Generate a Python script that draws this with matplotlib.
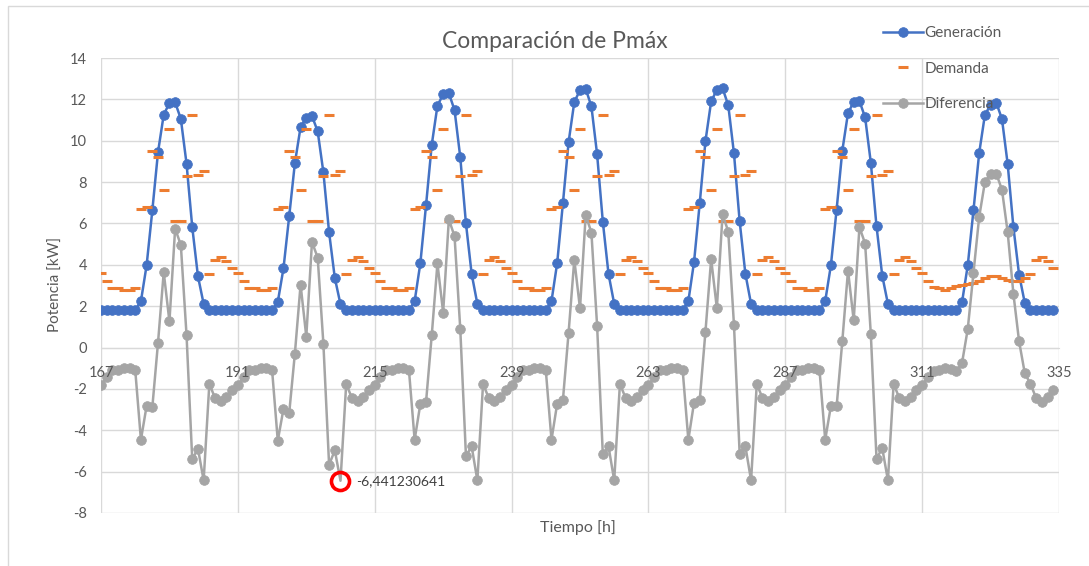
import matplotlib
matplotlib.use('Agg')  # sin pantalla
import matplotlib.pyplot as plt
from matplotlib.patches import Rectangle
import numpy as np

plt.rcParams['font.family'] = ['Lato', 'DejaVu Sans']
plt.rcParams['axes.unicode_minus'] = False

# horas de la semana (167 ... 334)
horas = np.arange(167, 335)

# Generación [kW], una fila por día
generacion = [
    1.80, 1.80, 1.80, 1.80, 1.80, 1.80, 1.80, 2.24, 3.98, 6.63, 9.45, 11.26, 11.82, 11.85, 11.06, 8.89, 5.83, 3.45, 2.11, 1.80, 1.80, 1.80, 1.80, 1.80,
    1.80, 1.80, 1.80, 1.80, 1.80, 1.80, 1.80, 2.20, 3.83, 6.34, 8.92, 10.66, 11.09, 11.20, 10.45, 8.47, 5.57, 3.37, 2.09, 1.80, 1.80, 1.80, 1.80, 1.80,
    1.80, 1.80, 1.80, 1.80, 1.80, 1.80, 1.80, 2.24, 4.07, 6.88, 9.80, 11.69, 12.25, 12.30, 11.48, 9.21, 6.00, 3.56, 2.11, 1.80, 1.80, 1.80, 1.80, 1.80,
    1.80, 1.80, 1.80, 1.80, 1.80, 1.80, 1.80, 2.24, 4.09, 6.97, 9.93, 11.87, 12.45, 12.51, 11.66, 9.34, 6.09, 3.56, 2.11, 1.80, 1.80, 1.80, 1.80, 1.80,
    1.80, 1.80, 1.80, 1.80, 1.80, 1.80, 1.80, 2.24, 4.14, 6.99, 9.98, 11.90, 12.46, 12.54, 11.71, 9.39, 6.10, 3.57, 2.11, 1.80, 1.80, 1.80, 1.80, 1.80,
    1.80, 1.80, 1.80, 1.80, 1.80, 1.80, 1.80, 2.24, 3.98, 6.67, 9.52, 11.34, 11.87, 11.92, 11.13, 8.94, 5.86, 3.48, 2.11, 1.80, 1.80, 1.80, 1.80, 1.80,
    1.80, 1.80, 1.80, 1.80, 1.80, 1.80, 1.80, 2.20, 3.98, 6.63, 9.40, 11.24, 11.74, 11.84, 11.05, 8.87, 5.83, 3.53, 2.16, 1.80, 1.80, 1.80, 1.80, 1.80,
]

# Demanda [kW]
demanda = [
    3.61, 3.24, 2.88, 2.88, 2.80, 2.80, 2.88, 6.70, 6.80, 9.52, 9.21, 7.62, 10.56, 6.10, 6.10, 8.29, 11.24, 8.34, 8.53, 3.56, 4.24, 4.38, 4.19, 3.85,
    3.61, 3.24, 2.88, 2.88, 2.80, 2.80, 2.88, 6.70, 6.80, 9.52, 9.21, 7.62, 10.56, 6.10, 6.10, 8.29, 11.24, 8.34, 8.53, 3.56, 4.24, 4.38, 4.19, 3.85,
    3.61, 3.24, 2.88, 2.88, 2.80, 2.80, 2.88, 6.70, 6.80, 9.52, 9.21, 7.62, 10.56, 6.10, 6.10, 8.29, 11.24, 8.34, 8.53, 3.56, 4.24, 4.38, 4.19, 3.85,
    3.61, 3.24, 2.88, 2.88, 2.80, 2.80, 2.88, 6.70, 6.80, 9.52, 9.21, 7.62, 10.56, 6.10, 6.10, 8.29, 11.24, 8.34, 8.53, 3.56, 4.24, 4.38, 4.19, 3.85,
    3.61, 3.24, 2.88, 2.88, 2.80, 2.80, 2.88, 6.70, 6.80, 9.52, 9.21, 7.62, 10.56, 6.10, 6.10, 8.29, 11.24, 8.34, 8.53, 3.56, 4.24, 4.38, 4.19, 3.85,
    3.61, 3.24, 2.88, 2.88, 2.80, 2.80, 2.88, 6.70, 6.80, 9.52, 9.21, 7.62, 10.56, 6.10, 6.10, 8.29, 11.24, 8.34, 8.53, 3.56, 4.24, 4.38, 4.19, 3.85,
    3.61, 3.24, 2.92, 2.88, 2.80, 2.88, 2.96, 3.01, 3.09, 3.12, 3.20, 3.36, 3.44, 3.44, 3.36, 3.28, 3.20, 3.20, 3.36, 3.56, 4.24, 4.38, 4.19, 3.85,
]

# Diferencia [kW]
diferencia = [
    -1.81, -1.44, -1.08, -1.08, -1.00, -1.00, -1.08, -4.46, -2.82, -2.89, 0.24, 3.64, 1.26, 5.75, 4.96, 0.60, -5.41, -4.89, -6.42, -1.76, -2.44, -2.58, -2.39, -2.05,
    -1.81, -1.44, -1.08, -1.08, -1.00, -1.00, -1.08, -4.50, -2.97, -3.18, -0.29, 3.04, 0.53, 5.10, 4.35, 0.18, -5.67, -4.97, -6.44, -1.76, -2.44, -2.58, -2.39, -2.05,
    -1.81, -1.44, -1.08, -1.08, -1.00, -1.00, -1.08, -4.46, -2.73, -2.64, 0.59, 4.07, 1.69, 6.20, 5.38, 0.92, -5.24, -4.78, -6.42, -1.76, -2.44, -2.58, -2.39, -2.05,
    -1.81, -1.44, -1.08, -1.08, -1.00, -1.00, -1.08, -4.46, -2.71, -2.55, 0.72, 4.25, 1.89, 6.41, 5.56, 1.05, -5.15, -4.78, -6.42, -1.76, -2.44, -2.58, -2.39, -2.05,
    -1.81, -1.44, -1.08, -1.08, -1.00, -1.00, -1.08, -4.46, -2.66, -2.53, 0.77, 4.28, 1.90, 6.44, 5.61, 1.10, -5.14, -4.77, -6.42, -1.76, -2.44, -2.58, -2.39, -2.05,
    -1.81, -1.44, -1.08, -1.08, -1.00, -1.00, -1.08, -4.46, -2.82, -2.85, 0.31, 3.72, 1.31, 5.82, 5.03, 0.65, -5.38, -4.86, -6.42, -1.76, -2.44, -2.58, -2.39, -2.05,
    -1.81, -1.44, -1.12, -1.08, -1.00, -1.04, -1.15, -0.74, 0.90, 3.61, 6.31, 7.99, 8.41, 8.41, 7.63, 5.57, 2.61, 0.30, -1.24, -1.76, -2.45, -2.62, -2.38, -2.03,
]

# punto marcado
pico_hora = 209
pico_texto = '-6,441230641'

x_ticks = [167, 191, 215, 239, 263, 287, 311, 335]
y_ticks = [-8, -6, -4, -2, 0, 2, 4, 6, 8, 10, 12, 14]

azul = '#4472C4'
naranja = '#ED7D31'
gris = '#A5A5A5'
texto = '#595959'
rejilla = '#D9D9D9'

W, H = 1089, 566
fig = plt.figure(figsize=(W / 100, H / 100), dpi=100)
ax = fig.add_axes([101 / W, 1 - 513 / H, (1059 - 101) / W, (513 - 58) / H])

# borde del área del gráfico
fig.patches.append(Rectangle((8 / W, -0.2), 1.2, 1.2 - 6 / H, transform=fig.transFigure,
                             fill=False, edgecolor=rejilla, lw=1.0))

ax.plot(horas, generacion, color=azul, lw=1.8, marker='o', ms=7, mew=0.5,
        label='Generación', zorder=3)
ax.plot(horas, demanda, ls='none', marker='_', ms=7, mew=2.2, color=naranja,
        label='Demanda', zorder=4)

idx_pico = list(horas).index(pico_hora)
marcas = [i for i in range(len(horas)) if i != idx_pico]
ax.plot(horas, diferencia, color=gris, lw=1.8, marker='o', ms=7, mew=0.5,
        markevery=marcas, label='Diferencia', zorder=5)

# marca roja y etiqueta del mínimo
ax.plot(pico_hora, diferencia[idx_pico], ls='none', marker='o', ms=13, mfc='none',
        mec='#FF0000', mew=2.6, zorder=6)
ax.annotate(pico_texto, xy=(pico_hora, diferencia[idx_pico]), xytext=(11, 0),
            textcoords='offset points', ha='left', va='center', fontsize=10, color='#404040')

ax.set_xlim(167, 335)
ax.set_ylim(-8, 14)
ax.set_xticks(x_ticks)
ax.set_xticklabels([])
ax.set_yticks(y_ticks)
ax.grid(True, color=rejilla, lw=1.0)
ax.set_axisbelow(True)

for s in ['top', 'left', 'right']:
    ax.spines[s].set_visible(False)
ax.spines['bottom'].set_position(('data', 0))
ax.spines['bottom'].set_color(rejilla)
ax.tick_params(axis='both', length=0, labelsize=10.5, labelcolor=texto)
ax.tick_params(axis='y', pad=10)

# etiquetas del eje x junto al eje (y = 0), por encima de las series
for xt in x_ticks:
    ax.annotate(str(xt), xy=(xt, 0), xytext=(0, -13), textcoords='offset points',
                ha='center', va='top', fontsize=10.5, color=texto, zorder=8,
                annotation_clip=False)

fig.text(555 / W, 1 - 42 / H, 'Comparación de Pmáx', ha='center', va='center',
         fontsize=16.5, color=texto)
fig.text(56 / W, 1 - 285 / H, 'Potencia [kW]', rotation=90, ha='center', va='center',
         fontsize=11, color=texto)
fig.text(578 / W, 1 - 528 / H, 'Tiempo [h]', ha='center', va='center',
         fontsize=11.5, color=texto)

leg = ax.legend(loc='upper left', bbox_to_anchor=(883 / W, 1 - 26 / H),
                bbox_transform=fig.transFigure, frameon=False, fontsize=11,
                handlelength=2.6, handletextpad=0.1, labelspacing=1.42, borderpad=0,
                borderaxespad=0)
for t in leg.get_texts():
    t.set_color(texto)

fig.savefig('out.png', dpi=100)
